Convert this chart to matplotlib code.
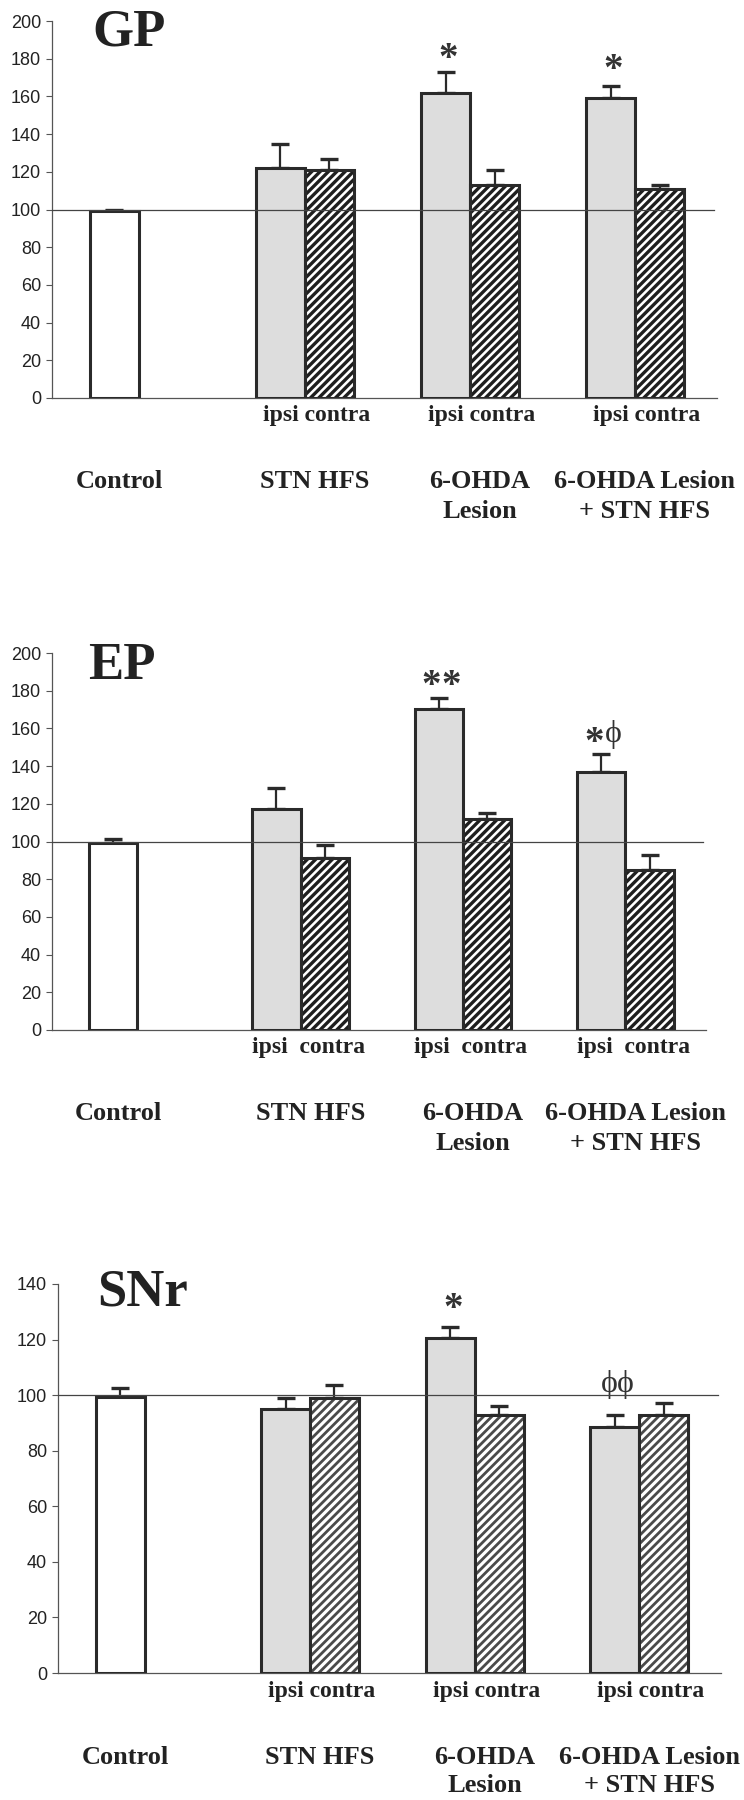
import matplotlib
matplotlib.use("Agg")
from matplotlib import pyplot as plt
from matplotlib import transforms

# values (% of control)
panels = ["GP", "EP", "SNr"]
group_lines = [["Control"], ["STN HFS"], ["6-OHDA", "Lesion"], ["6-OHDA Lesion", "+ STN HFS"]]

gp_control = 99
gp_control_err = 1
gp_ipsi = [122, 162, 159]
gp_ipsi_err = [13, 11, 6.5]
gp_contra = [121, 113, 111]
gp_contra_err = [6, 8, 2]
gp_marks = ["", "*", "*"]
gp_mark_y = [0, 184.5, 178.5]

ep_control = 99
ep_control_err = 2.5
ep_ipsi = [117, 170.5, 137]
ep_ipsi_err = [11.5, 5.5, 9.5]
ep_contra = [91.5, 112, 85]
ep_contra_err = [6.5, 3, 8]
ep_marks = ["", "**", "*ϕ"]
ep_mark_y = [0, 187, 157]

snr_control = 99.5
snr_control_err = 3
snr_ipsi = [95, 120.5, 88.5]
snr_ipsi_err = [4, 4, 4.5]
snr_contra = [99, 93, 93]
snr_contra_err = [4.5, 3, 4]
snr_marks = ["", "*", "ϕϕ"]
snr_mark_y = [0, 134, 104]

gp_yticks = list(range(0, 201, 20))
ep_yticks = list(range(0, 201, 20))
snr_yticks = list(range(0, 141, 20))

W, H = 744, 1800
EDGE = "#2a2a2a"
IPSI_FILL = "#dddddd"
SERIF = ["Liberation Serif", "DejaVu Serif"]
SANS = ["Liberation Sans", "DejaVu Sans"]


def rect(left, right, top, bottom):
    return [left / W, 1 - bottom / H, (right - left) / W, (bottom - top) / H]


def draw_panel(fig, box, title, title_xy, ymax, yticks, control, control_err,
               ipsi, ipsi_err, contra, contra_err, marks, mark_y, hatch_col,
               hatch_lw, sep="ipsi contra", sep_dx=0.74):
    ax = fig.add_axes(rect(*box))
    ctrl_x = 1.27
    ipsi_x = [4.65, 8.02, 11.38]
    contra_x = [x + 1 for x in ipsi_x]

    ax.bar([ctrl_x], [control], width=1, color="white", edgecolor=EDGE, linewidth=2.2, zorder=3)
    ax.bar(ipsi_x, ipsi, width=1, color=IPSI_FILL, edgecolor=EDGE, linewidth=2.2, zorder=3)
    plt.rcParams["hatch.linewidth"] = hatch_lw
    ax.bar(contra_x, contra, width=1, color="white", edgecolor=hatch_col, hatch="////",
           linewidth=0, zorder=3)
    ax.bar(contra_x, contra, width=1, fill=False, edgecolor=EDGE, linewidth=2.2, zorder=4)

    xs = [ctrl_x] + ipsi_x + contra_x
    ys = [control] + ipsi + contra
    es = [control_err] + ipsi_err + contra_err
    ax.errorbar(xs, ys, yerr=[[0] * len(es), es], fmt="none", ecolor=EDGE,
                elinewidth=1.6, capsize=6.8, capthick=2.4, zorder=2)

    ax.axhline(100, xmin=0, xmax=0.995, color="#444444", linewidth=0.9, zorder=5)

    # significance marks, one glyph at a time (asterisk sits high in the font)
    star_trans = transforms.offset_copy(ax.transData, fig=fig, x=0, y=-9, units="dots")
    for x, m, my in zip(ipsi_x, marks, mark_y):
        if not m:
            continue
        if m == "**":
            step = 0.42
        elif m == "ϕϕ":
            step = 0.31
        else:
            step = 0.38
        x0 = x + 0.05 - step * (len(m) - 1) / 2
        for i, ch in enumerate(m):
            if ch == "*":
                ax.text(x0 + i * step, my, ch, transform=star_trans, ha="center",
                        va="center", fontsize=28, fontweight="bold", family=SERIF,
                        color="#333333")
            else:
                ax.text(x0 + i * step, my, ch, ha="center", va="center", fontsize=23,
                        family=SERIF, color="#333333")

    ax.set_xlim(0, 13.55)
    ax.set_ylim(0, ymax)
    ax.set_yticks(yticks)
    ax.set_xticks([])
    for side in ["top", "right"]:
        ax.spines[side].set_visible(False)
    for side in ["left", "bottom"]:
        ax.spines[side].set_color("#555555")
        ax.spines[side].set_linewidth(0.9)
    ax.tick_params(axis="y", length=4, width=0.8, color="#555555", pad=4,
                   labelsize=13, labelcolor="#222222")
    for lab in ax.get_yticklabels():
        lab.set_family(SANS)

    # labels under the axis, offsets in pixels
    ax_h = box[3] - box[2]
    trans = transforms.blended_transform_factory(ax.transData, ax.transAxes)
    for x in ipsi_x:
        ax.text(x + sep_dx, -18 / ax_h, sep, transform=trans, ha="center", va="center",
                fontsize=17, fontweight="bold", family=SERIF, color="#222222")
    centers = [ctrl_x + 0.1] + [x + 0.7 for x in ipsi_x]
    for cx, lines in zip(centers, group_lines):
        for i, line in enumerate(lines):
            ax.text(cx, -(84 + 29 * i) / ax_h, line, transform=trans, ha="center",
                    va="center", fontsize=19, fontweight="bold", family=SERIF,
                    color="#222222")

    fig.text(title_xy[0] / W, 1 - title_xy[1] / H, title, ha="left", va="baseline",
             fontsize=38, fontweight="bold", family=SERIF, color="#222222")
    return ax


def main():
    fig = plt.figure(figsize=(W / 100, H / 100), dpi=100)

    draw_panel(fig, (52, 717, 21, 398), panels[0], (92, 46), 200, gp_yticks,
               gp_control, gp_control_err, gp_ipsi, gp_ipsi_err, gp_contra,
               gp_contra_err, gp_marks, gp_mark_y, "#1e1e1e", 2.4)
    draw_panel(fig, (52, 706, 653, 1030), panels[1], (88, 679), 200, ep_yticks,
               ep_control, ep_control_err, ep_ipsi, ep_ipsi_err, ep_contra,
               ep_contra_err, ep_marks, ep_mark_y, "#1e1e1e", 2.4,
               sep="ipsi  contra", sep_dx=0.66)
    draw_panel(fig, (58, 721, 1284, 1673), panels[2], (97, 1306), 140, snr_yticks,
               snr_control, snr_control_err, snr_ipsi, snr_ipsi_err, snr_contra,
               snr_contra_err, snr_marks, snr_mark_y, "#4a4a4a", 2.0)

    fig.savefig("out.png", dpi=100)


if __name__ == "__main__":
    main()
